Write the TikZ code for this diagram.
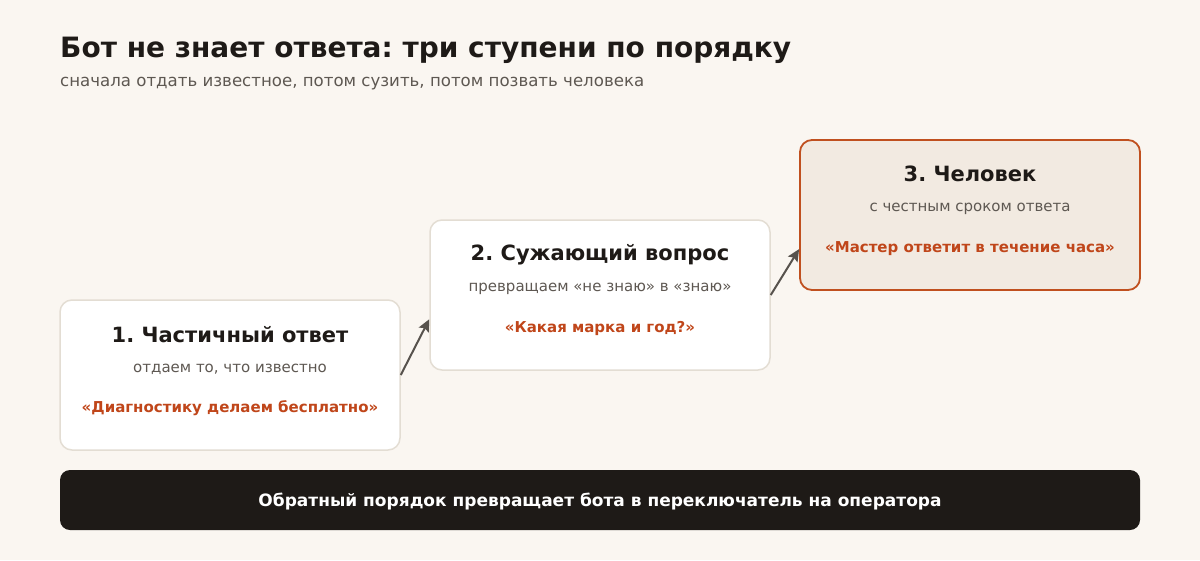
\documentclass[tikz,border=0pt]{standalone}
\usepackage{fontspec}
\setmainfont{DejaVu Sans}
\usetikzlibrary{arrows.meta,calc}
\frenchspacing
\definecolor{bg}{HTML}{FAF6F1}
\definecolor{ink}{HTML}{1E1A17}
\definecolor{muted}{HTML}{5E5852}
\definecolor{accent}{HTML}{C0461A}
\definecolor{cardline}{HTML}{E3DDD3}
\definecolor{hotfill}{HTML}{F2EAE1}
\definecolor{hotline}{HTML}{C0501F}
\definecolor{arrowc}{HTML}{57524D}
\tikzset{
  card/.style={draw=cardline,line width=1.5pt,fill=white,rounded corners=12pt,minimum width=340pt,minimum height=150pt,inner sep=0pt},
  hotcard/.style={card,draw=hotline,fill=hotfill,line width=1.8pt},
  cardtitle/.style={font=\bfseries\fontsize{21}{25}\selectfont,text=ink,inner sep=0pt,anchor=center},
  cardsub/.style={font=\fontsize{15}{18}\selectfont,text=muted,inner sep=0pt,anchor=center},
  cardquote/.style={font=\bfseries\fontsize{15}{18}\selectfont,text=accent,inner sep=0pt,anchor=center},
  link/.style={draw=arrowc,line width=2pt,-{Stealth[length=12pt,width=11pt,inset=2pt]}},
}
\begin{document}
\begin{tikzpicture}[x=1pt,y=-1pt]
\fill[bg] (0,0) rectangle (1200,560);
\useasboundingbox (0,0) rectangle (1200,560);
\node[anchor=base west,inner sep=0pt,font=\bfseries\fontsize{28}{32}\selectfont,text=ink] (title) at (60,57) {Бот не знает ответа: три ступени по порядку};
\node[anchor=base west,inner sep=0pt,font=\fontsize{16.6}{20}\selectfont,text=muted] (subtitle) at (60,86) {сначала отдать известное, потом сузить, потом позвать человека};

\node[card] (b1) at (230,375) {};
\node[card] (b2) at (600,295) {};
\node[hotcard] (b3) at (970,215) {};

\foreach \b/\t/\s/\q in {b1/{1. Частичный ответ}/{отдаем то, что известно}/{«Диагностику делаем бесплатно»},
                         b2/{2. Сужающий вопрос}/{превращаем «не знаю» в «знаю»}/{«Какая марка и год?»},
                         b3/{3. Человек}/{с честным сроком ответа}/{«Мастер ответит в течение часа»}}{
  \node[cardtitle] (\b t) at ($(\b.north)+(0,35)$) {\t};
  \node[cardsub] (\b s) at ($(\b.north)+(0,70)$) {\s};
  \node[cardquote] (\b q) at ($(\b.north)+(0,109)$) {\q};
}

\coordinate (e2) at ($(b2.north west)+(0,100)$);
\coordinate (e3) at ($(b3.north west)+(0,110)$);
\draw[link] (b1.east) -- (e2);
\draw[link] (b2.east) -- (e3);

\node[fill=ink,rounded corners=10pt,minimum width=1080pt,minimum height=60pt,inner sep=0pt] (bar) at (600,500) {};
\node[inner sep=0pt,text=white,font=\bfseries\fontsize{17}{20}\selectfont] (bartext) at ($(bar.center)+(0,2)$) {Обратный порядок превращает бота в переключатель на оператора};
\end{tikzpicture}
\end{document}
